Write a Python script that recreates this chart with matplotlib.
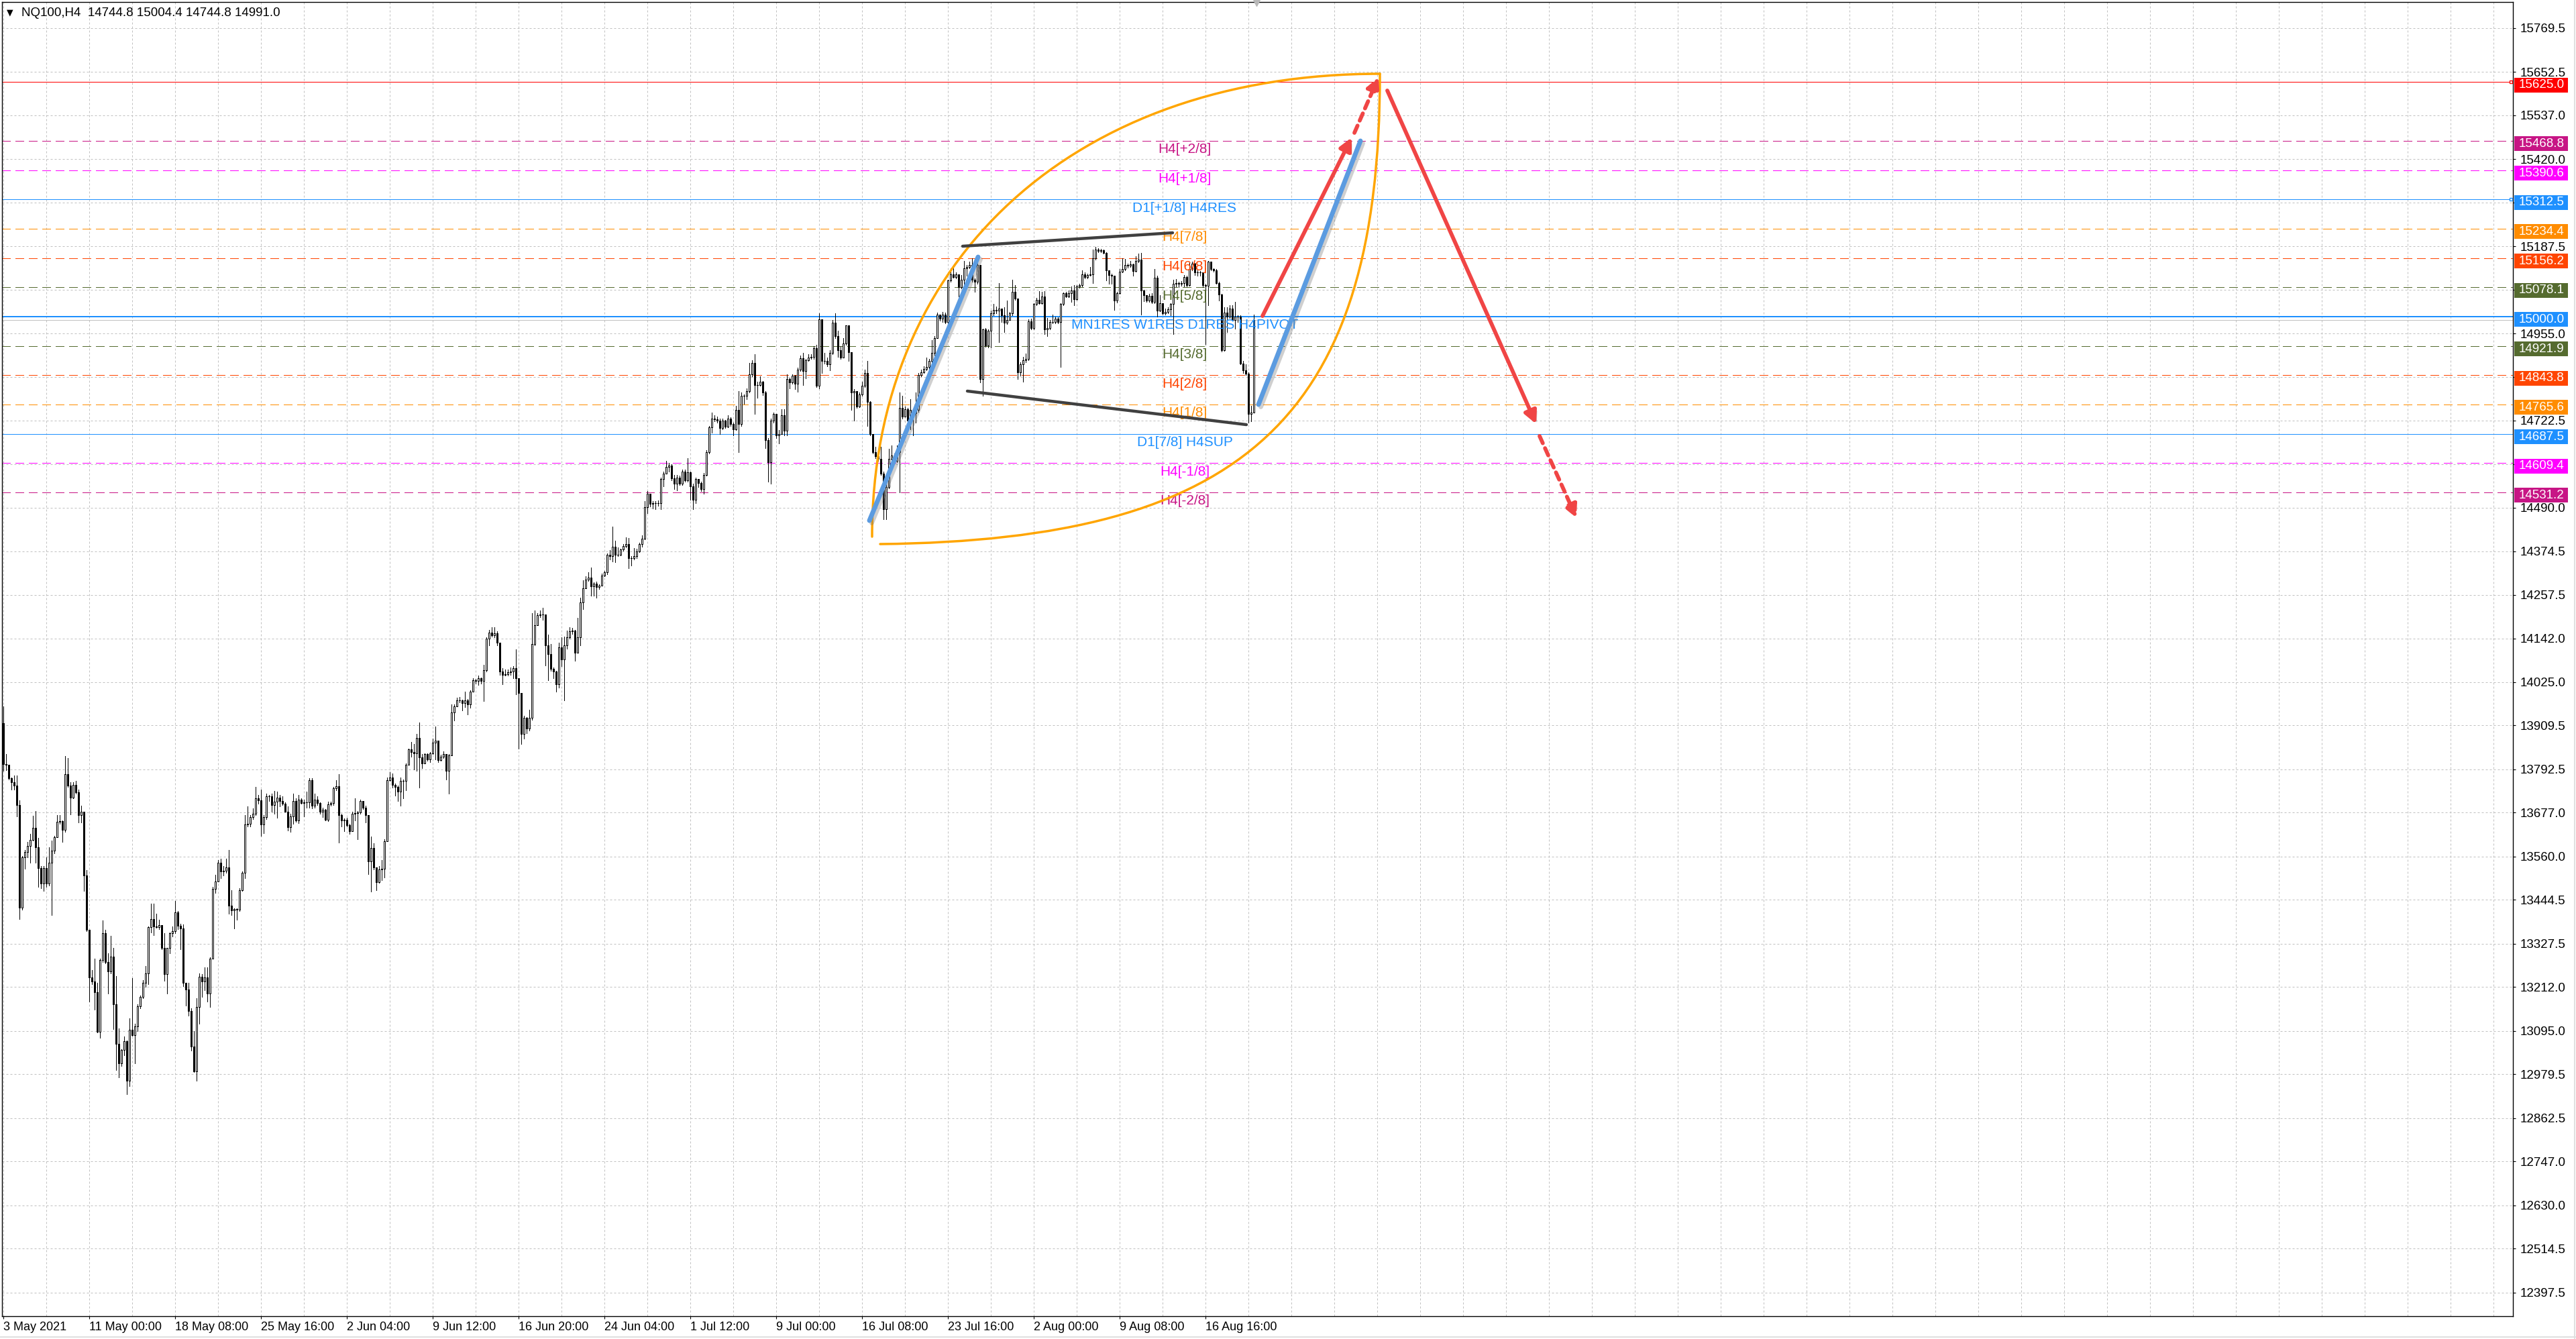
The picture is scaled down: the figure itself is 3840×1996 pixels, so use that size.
import matplotlib.pyplot as plt
import matplotlib.patheffects as pe
from matplotlib.path import Path
from matplotlib.patches import PathPatch, Rectangle
from matplotlib.lines import Line2D
from matplotlib.transforms import blended_transform_factory

# NQ100 H4 candles, bar 0 = 3 May 2021 00:00 (open of each bar = close of the previous one)
first_open = 13916.0
closes = [
    13807, 13805, 13769, 13758, 13750, 13697, 13424, 13558, 13573, 13588,
    13605, 13636, 13584, 13530, 13489, 13530, 13489, 13543, 13575, 13611,
    13652, 13654, 13632, 13779, 13750, 13718, 13752, 13731, 13671, 13679,
    13509, 13365, 13238, 13227, 13199, 13093, 13285, 13355, 13279, 13253,
    13294, 13166, 13060, 13008, 13044, 13067, 12962, 13099, 13084, 13108,
    13160, 13185, 13223, 13249, 13372, 13394, 13373, 13372, 13377, 13317,
    13246, 13316, 13355, 13361, 13411, 13376, 13368, 13223, 13206, 13149,
    13054, 12987, 13159, 13240, 13227, 13238, 13194, 13288, 13474, 13494,
    13543, 13520, 13523, 13532, 13430, 13416, 13420, 13419, 13471, 13517,
    13646, 13647, 13666, 13675, 13716, 13710, 13646, 13665, 13721, 13720,
    13697, 13707, 13718, 13709, 13701, 13680, 13639, 13667, 13709, 13657,
    13711, 13703, 13704, 13704, 13763, 13695, 13712, 13703, 13679,
    13685, 13658, 13699, 13702, 13742, 13747, 13670, 13656, 13658, 13644,
    13627, 13675, 13676, 13677, 13708, 13690, 13670, 13548, 13583, 13531,
    13492, 13526, 13528, 13601, 13763, 13770, 13752, 13746, 13733, 13761,
    13761, 13804, 13846, 13839, 13835, 13877, 13824, 13809, 13833, 13819,
    13836, 13863, 13870, 13817, 13827, 13833, 13788, 13829, 13944, 13961,
    13976, 13976, 13969, 13976, 13966, 14000, 14030, 14028, 14035, 14028,
    14057, 14141, 14158, 14150, 14156, 14130, 14054, 14045, 14046, 14052,
    14054, 14062, 14036, 13996, 13887, 13930, 13901, 13930, 14126, 14176,
    14204, 14206, 14206, 14124, 14100, 14060, 14053, 14019, 14117, 14086,
    14124, 14144, 14160, 14163, 14103, 14145, 14238, 14276, 14298, 14304,
    14281, 14288, 14278, 14282, 14310, 14319, 14365, 14361, 14387, 14365,
    14365, 14379, 14388, 14393, 14355, 14356, 14361, 14373,
    14394, 14408, 14491, 14528, 14500, 14503, 14503, 14503, 14566, 14581,
    14599, 14603, 14569, 14555, 14571, 14555, 14587, 14564, 14584, 14547,
    14512, 14566, 14556, 14540, 14578, 14639, 14704, 14728, 14726, 14723,
    14702, 14723, 14706, 14728, 14714, 14700, 14751, 14714, 14788, 14788,
    14802, 14846, 14877, 14817, 14818, 14826, 14798, 14671, 14611, 14723,
    14740, 14683, 14686, 14737, 14695, 14833, 14824, 14843, 14821, 14859,
    14889, 14854, 14884, 14891, 14893, 14915, 14816, 14992, 14882, 14882,
    14873, 14903, 14983, 14947, 14910, 14891, 14929, 14976, 14905, 14798,
    14802, 14760, 14793, 14815, 14849, 14772, 14686, 14639, 14627, 14620,
    14581, 14487, 14545, 14620, 14629, 14615, 14639, 14756, 14734, 14753,
    14723, 14751, 14742, 14751, 14845, 14852, 14861, 14865, 14882, 14903,
    14943, 15005,
    14994, 15006, 14985, 15096, 15112, 15106, 15112, 15078, 15099, 15129,
    15132, 15138, 15099, 15093, 15138, 14833, 14965, 14923, 14962, 15009,
    15018, 15015, 15022, 15003, 14984, 14991, 15009, 15066, 15048, 14851,
    14872, 14884, 14887, 14988, 14969, 15033, 15045, 15036, 15054, 14965,
    14969, 14985, 14985, 14994, 14985, 15034, 15062, 15054, 15063, 15070,
    15046, 15080, 15084, 15112, 15106, 15111, 15112, 15155, 15179, 15175,
    15176, 15170, 15123, 15111, 15108, 15042, 15063, 15120, 15126, 15138,
    15136, 15139, 15121, 15148, 15152, 15069, 15057, 15042, 15056, 15039,
    15104, 15016, 15036, 15009, 15012, 15020, 15033, 15087, 15090, 15087,
    15090, 15105, 15084, 15126, 15141, 15117, 15117, 15117, 15084, 15082,
    15146, 15126, 15123, 15090, 15058, 14911, 15011, 15000, 15021, 14991,
    14999, 14999, 14875, 14857, 14848, 14741, 14744.8, 14991.0,
]
highs = [
    13961, 13834, 13803, 13770, 13776, 13776, 13710, 13562, 13577, 13599,
    13620, 13668, 13681, 13609, 13535, 13535, 13558, 13584, 13603, 13615,
    13671, 13671, 13656, 13828, 13822, 13758, 13758, 13761, 13739, 13695,
    13679, 13524, 13355, 13257, 13287, 13223, 13287, 13389, 13364, 13302,
    13349, 13316, 13242, 13102, 13046, 13080, 13070, 13129, 13236, 13114,
    13166, 13189, 13230, 13268, 13374, 13434, 13434, 13407, 13392, 13377,
    13355, 13317, 13358, 13374, 13441, 13415, 13381, 13379, 13223, 13223,
    13155, 13095, 13182, 13249, 13246, 13264, 13264, 13291, 13479, 13511,
    13551, 13554, 13535, 13554, 13577, 13471, 13422, 13422, 13475, 13520,
    13671, 13694, 13671, 13688, 13746, 13724, 13739, 13671, 13727, 13725,
    13727, 13735, 13733, 13724, 13720, 13705, 13694, 13675, 13727, 13716,
    13724, 13716, 13712, 13733, 13769, 13769, 13727, 13720, 13705,
    13690, 13687, 13706, 13707, 13745, 13764, 13779, 13675, 13661, 13663,
    13648, 13679, 13716, 13682, 13711, 13709, 13696, 13670, 13614, 13596,
    13531, 13535, 13550, 13607, 13771, 13786, 13781, 13754, 13750, 13771,
    13765, 13809, 13848, 13865, 13860, 13887, 13918, 13833, 13836, 13836,
    13839, 13874, 13906, 13870, 13831, 13841, 13833, 13833, 13965, 13965,
    13983, 13986, 13978, 14000, 13980, 14004, 14035, 14033, 14043, 14038,
    14071, 14144, 14165, 14171, 14171, 14161, 14130, 14063, 14058, 14058,
    14065, 14067, 14113, 14036, 13956, 13935, 13932, 13951, 14209, 14216,
    14209, 14216, 14223, 14206, 14151, 14127, 14065, 14055, 14130, 14144,
    14147, 14163, 14171, 14169, 14165, 14197, 14250, 14297, 14308, 14319,
    14331, 14291, 14293, 14286, 14315, 14322, 14368, 14377, 14439, 14402,
    14384, 14380, 14394, 14411, 14409, 14361, 14382, 14380,
    14397, 14416, 14508, 14534, 14515, 14508, 14508, 14510, 14571, 14587,
    14615, 14609, 14606, 14578, 14578, 14575, 14592, 14592, 14622, 14587,
    14555, 14571, 14564, 14559, 14583, 14643, 14709, 14744, 14737, 14734,
    14728, 14728, 14725, 14737, 14732, 14718, 14762, 14802, 14798, 14793,
    14809, 14877, 14884, 14899, 14826, 14840, 14828, 14802, 14676, 14728,
    14744, 14732, 14697, 14753, 14753, 14846, 14837, 14846, 14845, 14863,
    14896, 14903, 14887, 14899, 14899, 14921, 14924, 15008, 14990, 14903,
    14891, 14910, 14990, 15008, 14962, 14921, 14943, 14977, 14977, 14905,
    14807, 14784, 14798, 14826, 14859, 14882, 14774, 14681, 14653, 14631,
    14653, 14587, 14555, 14648, 14657, 14634, 14657, 14798, 14788, 14760,
    14756, 14779, 14751, 14798, 14849, 14859, 14868, 14891, 14887, 14938,
    14948, 15011,
    15003, 15012, 15011, 15099, 15129, 15138, 15117, 15111, 15111, 15148,
    15138, 15146, 15155, 15102, 15141, 15138, 14968, 14969, 14965, 15015,
    15033, 15026, 15090, 15009, 15024, 15042, 15012, 15098, 15084, 14945,
    14878, 14893, 14902, 14993, 14994, 15036, 15050, 15068, 15066, 15068,
    14997, 14991, 15006, 15000, 14998, 15036, 15064, 15066, 15069, 15081,
    15084, 15084, 15087, 15123, 15117, 15114, 15133, 15179, 15185, 15183,
    15181, 15179, 15172, 15124, 15114, 15087, 15066, 15126, 15155, 15154,
    15141, 15148, 15141, 15160, 15167, 15169, 15072, 15054, 15060, 15063,
    15126, 15108, 15057, 15024, 15021, 15024, 15036, 15099, 15100, 15093,
    15094, 15110, 15108, 15143, 15146, 15143, 15123, 15121, 15118, 15087,
    15148, 15142, 15129, 15126, 15093, 15060, 15024, 15024, 15030, 15030,
    15039, 15003, 15003, 14881, 14872, 14851, 14762, 15004.4,
]
lows = [
    13788, 13791, 13765, 13739, 13739, 13667, 13394, 13419, 13528, 13558,
    13543, 13603, 13543, 13479, 13475, 13468, 13479, 13483, 13404, 13569,
    13615, 13648, 13599, 13626, 13746, 13673, 13715, 13727, 13651, 13651,
    13468, 13362, 13174, 13220, 13151, 13091, 13076, 13279, 13276, 13194,
    13249, 13100, 12991, 12972, 13001, 13031, 12926, 12948, 13082, 13008,
    13095, 13155, 13182, 13212, 13219, 13358, 13351, 13370, 13366, 13313,
    13229, 13194, 13302, 13347, 13355, 13366, 13313, 13215, 13163, 13136,
    13042, 12986, 12963, 13114, 13185, 13204, 13174, 13159, 13287, 13464,
    13498, 13502, 13509, 13517, 13407, 13404, 13368, 13392, 13415, 13468,
    13502, 13641, 13641, 13660, 13671, 13701, 13615, 13622, 13660, 13709,
    13679, 13675, 13663, 13694, 13697, 13679, 13630, 13626, 13648, 13652,
    13650, 13701, 13667, 13690, 13690, 13688, 13690, 13697, 13675,
    13665, 13657, 13655, 13696, 13697, 13737, 13598, 13641, 13627, 13641,
    13620, 13627, 13656, 13607, 13675, 13687, 13651, 13514, 13466, 13525,
    13471, 13490, 13497, 13504, 13600, 13761, 13744, 13723, 13709, 13696,
    13715, 13737, 13813, 13826, 13793, 13788, 13744, 13795, 13809, 13815,
    13812, 13833, 13819, 13812, 13815, 13822, 13765, 13728, 13829, 13922,
    13969, 13972, 13950, 13958, 13939, 13956, 14014, 14021, 14017, 14021,
    13975, 14053, 14123, 14147, 14144, 14124, 14045, 14019, 14043, 14043,
    14045, 14036, 13993, 13848, 13860, 13874, 13889, 13896, 13925, 14124,
    14195, 14199, 14192, 14070, 14030, 14055, 14035, 14000, 14010, 14067,
    13976, 14115, 14141, 14153, 14082, 14103, 14124, 14219, 14281, 14295,
    14256, 14256, 14250, 14274, 14290, 14308, 14313, 14353, 14346, 14345,
    14361, 14363, 14375, 14384, 14329, 14336, 14353, 14356,
    14372, 14386, 14405, 14475, 14494, 14489, 14487, 14496, 14487, 14547,
    14592, 14587, 14564, 14540, 14536, 14550, 14550, 14559, 14559, 14512,
    14487, 14503, 14545, 14534, 14528, 14575, 14634, 14690, 14721, 14718,
    14687, 14700, 14702, 14704, 14709, 14684, 14697, 14639, 14709, 14768,
    14779, 14798, 14840, 14740, 14784, 14815, 14790, 14650, 14559, 14555,
    14718, 14676, 14662, 14690, 14684, 14684, 14809, 14821, 14807, 14800,
    14854, 14817, 14835, 14882, 14887, 14887, 14812, 14809, 14849, 14875,
    14868, 14856, 14899, 14943, 14893, 14887, 14890, 14924, 14882, 14751,
    14723, 14756, 14758, 14788, 14812, 14709, 14684, 14634, 14622, 14615,
    14578, 14459, 14459, 14541, 14615, 14609, 14611, 14531, 14728, 14742,
    14718, 14700, 14684, 14718, 14746, 14840, 14849, 14856, 14861, 14877,
    14896, 14980,
    14989, 14986, 14982, 14982, 15093, 15104, 15102, 15054, 15075, 15084,
    15108, 15129, 15093, 15066, 15087, 14824, 14789, 14920, 14917, 14917,
    15003, 15009, 14932, 14986, 14959, 14980, 15003, 15003, 15045, 14833,
    14842, 14826, 14878, 14884, 14965, 14966, 15030, 15033, 15033, 14953,
    14947, 14965, 14982, 14982, 14981, 14866, 15030, 15051, 15051, 15039,
    15030, 15044, 15076, 15081, 15102, 15102, 15108, 15090, 15152, 15172,
    15172, 15167, 15096, 15087, 15087, 15018, 15038, 15060, 15117, 15123,
    15130, 15132, 15108, 15120, 15145, 15006, 15040, 15039, 15039, 15036,
    15036, 14999, 15014, 15006, 15006, 15009, 15003, 14953, 15080, 15078,
    15082, 15080, 15080, 15082, 15123, 15111, 15108, 15108, 15078, 14926,
    15030, 15123, 15120, 15087, 15042, 14907, 14908, 14959, 14997, 14989,
    14968, 14986, 14872, 14850, 14845, 14718, 14720, 14744.8,
]

x_labels = ['3 May 2021', '11 May 00:00', '18 May 08:00', '25 May 16:00', '2 Jun 04:00',
            '9 Jun 12:00', '16 Jun 20:00', '24 Jun 04:00', '1 Jul 12:00', '9 Jul 00:00',
            '16 Jul 08:00', '23 Jul 16:00', '2 Aug 00:00', '9 Aug 08:00', '16 Aug 16:00']

y_ticks = [15769.5, 15652.5, 15537.0, 15420.0, 15303.5, 15187.5, 15071.0, 14955.0,
           14838.5, 14722.5, 14606.0, 14490.0, 14374.5, 14257.5, 14142.0, 14025.0,
           13909.5, 13792.5, 13677.0, 13560.0, 13444.5, 13327.5, 13212.0, 13095.0,
           12979.5, 12862.5, 12747.0, 12630.0, 12514.5, 12397.5]
y_hidden = [15303.5, 15071.0, 14838.5, 14606.0]

# Murrey-math / pivot levels
levels = [15625.0, 15468.8, 15390.6, 15312.5, 15234.4, 15156.2, 15078.1,
          15000.0, 14921.9, 14843.8, 14765.6, 14687.5, 14609.4, 14531.2]
level_colors = ['#FF0000', '#C71585', '#FF00FF', '#1E90FF', '#FF8C00', '#FF4500', '#556B2F',
                '#1E90FF', '#556B2F', '#FF4500', '#FF8C00', '#1E90FF', '#FF00FF', '#C71585']
level_dashed = [False, True, True, False, True, True, True,
                False, True, True, True, False, True, True]
level_names = ['', 'H4[+2/8]', 'H4[+1/8]', 'D1[+1/8] H4RES', 'H4[7/8]', 'H4[6/8]', 'H4[5/8]',
               'MN1RES W1RES D1RES H4PIVOT', 'H4[3/8]', 'H4[2/8]', 'H4[1/8]', 'D1[7/8] H4SUP',
               'H4[-1/8]', 'H4[-2/8]']
bid = 14991.0

# hand drawn objects (bar index, price)
orange_upper = [(323.75, 14413.0), (323.75, 15153.6), (399.5, 15647.3), (513.0, 15647.3)]
orange_lower = [(326.75, 14393.3), (462.75, 14404.0), (513.0, 14731.4), (513.0, 15647.3)]
channel_upper = [(357.5, 15187.6), (435.75, 15223.3)]
channel_lower = [(359.25, 14801.2), (463.25, 14711.7)]
blue_legs = [[(322.75, 14455.9), (363.25, 15158.9)], [(467.75, 14765.4), (505.75, 15468.4)]]
red_solid = [[(469.25, 15001.5), (502.5, 15477.4)], [(515.75, 15602.6), (571.25, 14713.5)]]
red_dashed = [[(503.5, 15489.9), (512.5, 15638.4)], [(572.5, 14681.3), (586.25, 14463.1)]]

W, H = 3840, 1996
plt.rcParams['font.family'] = ['Liberation Sans', 'DejaVu Sans']
fig = plt.figure(figsize=(W / 100, H / 100), dpi=100)
ax = fig.add_axes([3 / W, 1 - 1962 / H, 3743 / W, 1959 / H])
ax.set_xlim(-0.5, 935.25)
ax.set_ylim(12334.4, 15838.7)
for s in ax.spines.values():
    s.set_color('black')
    s.set_linewidth(1.0)

# grid
ax.set_xticks(range(0, 32 * len(x_labels), 32))
ax.set_xticklabels(x_labels, ha='left')
ax.set_xticks(range(0, 936, 16), minor=True)
ax.set_yticks(y_ticks)
ax.set_yticklabels(['' if v in y_hidden else f'{v:.1f}' for v in y_ticks])
ax.yaxis.tick_right()
ax.grid(which='both', axis='x', color='#C0C0C0', lw=0.72, ls=(0, (3, 3)), zorder=0)
ax.grid(which='major', axis='y', color='#C0C0C0', lw=0.72, ls=(0, (3, 3)), zorder=0)
ax.tick_params(axis='x', which='major', direction='out', length=3, width=0.8,
               labelsize=13, pad=3)
ax.tick_params(axis='x', which='minor', length=0)
ax.tick_params(axis='y', direction='out', length=3, width=0.8, labelsize=13.5, pad=5)

# candles
n = len(closes)
opens = [first_open] + closes[:-1]
xs = list(range(n))
ax.vlines(xs, lows, highs, color='black', lw=0.72, zorder=3, antialiased=False)
bottoms = [min(o, c) for o, c in zip(opens, closes)]
heights = [abs(c - o) for o, c in zip(opens, closes)]
faces = ['white' if c >= o else 'black' for o, c in zip(opens, closes)]
ax.bar(xs, heights, 0.55, bottoms, color=faces, edgecolor='black', lw=0.72, zorder=4,
       antialiased=False)

# levels
ax.axhline(bid, color='#C0C0C0', lw=0.72, zorder=2, antialiased=False)
label_x = 440.25
for lv, col, dashed, name in zip(levels, level_colors, level_dashed, level_names):
    lw = 1.44 if lv == 15000.0 else 0.72
    ax.axhline(lv, color=col, lw=lw, ls=(0, (13, 8)) if dashed else '-', zorder=2,
               antialiased=False)
    if name:
        ax.annotate(name, xy=(label_x, lv), xytext=(0, -2.5), textcoords='offset points',
                    ha='center', va='top', color=col, fontsize=15, zorder=5)
for lv, col in ((15625.0, '#FF0000'), (15312.5, '#1E90FF')):
    ax.plot([934.5], [lv], marker='s', ms=3.5, mfc='white', mec=col, mew=1,
            clip_on=False, zorder=6)

# price tags on the right scale
tr = blended_transform_factory(ax.transAxes, ax.transData)
px = 1 / 3743
py = (15838.7 - 12334.4) / 1959
for lv, col in zip(levels, level_colors):
    yc = lv - 4.5 * py
    ax.add_patch(Rectangle((1 + 2 * px, yc - 11 * py), 80 * px, 22 * py, transform=tr,
                           facecolor=col, edgecolor='none', clip_on=False, zorder=7))
    ax.text(1 + 9 * px, yc, f'{lv:.1f}', transform=tr, color='white', fontsize=13.5,
            va='center', ha='left', clip_on=False, zorder=8)

# drawings
shadow = [pe.SimpleLineShadow(offset=(2.5, -2.5), shadow_color='#777777', alpha=0.35),
          pe.Normal()]
for pts in (orange_upper, orange_lower):
    path = Path(pts, [Path.MOVETO, Path.CURVE4, Path.CURVE4, Path.CURVE4])
    ax.add_patch(PathPatch(path, facecolor='none', edgecolor='#FFA500', lw=2.5,
                           capstyle='round', zorder=6))
for pts in (channel_upper, channel_lower):
    ax.plot(*zip(*pts), color='#404040', lw=3.2, solid_capstyle='round', zorder=6)
for pts in blue_legs:
    ax.plot(*zip(*pts), color='#5B9BE0', lw=5.0, solid_capstyle='round', zorder=6,
            path_effects=shadow)
patch_shadow = [pe.SimplePatchShadow(offset=(2.5, -2.5), shadow_rgbFace='#777777', alpha=0.35),
                pe.Normal()]
for pts in red_solid:
    ax.annotate('', xy=pts[1], xytext=pts[0],
                arrowprops=dict(arrowstyle='-|>', color='#F04545', lw=4.2,
                                mutation_scale=28, shrinkA=0, shrinkB=0),
                zorder=6).arrow_patch.set_path_effects(patch_shadow)
for pts in red_dashed:
    ax.annotate('', xy=pts[1], xytext=pts[0],
                arrowprops=dict(arrowstyle='-|>', color='#F04545', lw=4.2, ls=(0, (2.0, 1.4)),
                                mutation_scale=28, shrinkA=0, shrinkB=0),
                zorder=6)

# chart shift marker
ax.plot([467], [15838.7], marker='v', ms=9, color='#B8B8B8', clip_on=False, zorder=9)

# header
fig.text(10 / W, 1 - 19 / H, '\u25BC', fontsize=9, va='center', ha='left',
         family=['DejaVu Sans'])
fig.text(32 / W, 1 - 19 / H, 'NQ100,H4  14744.8 15004.4 14744.8 14991.0',
         fontsize=13.5, va='center', ha='left')

# window border
fig.add_artist(Line2D([0, 1], [3 / H, 3 / H], transform=fig.transFigure, color='#E0E0E0', lw=1.5))
fig.add_artist(Line2D([1 - 2 / W, 1 - 2 / W], [0, 1], transform=fig.transFigure,
                      color='#E0E0E0', lw=1.5))

fig.savefig('out.png', dpi=100, facecolor='white')
